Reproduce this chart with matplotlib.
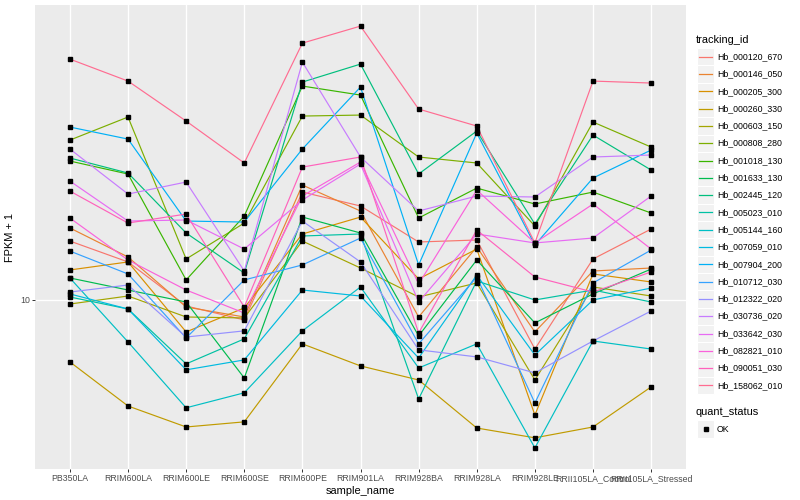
import numpy as np
import matplotlib.pyplot as plt
from matplotlib.patches import Rectangle

plt.rcParams['font.family'] = ['Liberation Sans', 'DejaVu Sans']

samples = ['PB350LA', 'RRIM600LA', 'RRIM600LE', 'RRIM600SE', 'RRIM600PE', 'RRIM901LA',
           'RRIM928BA', 'RRIM928LA', 'RRIM928LE', 'RRII105LA_Control', 'RRII105LA_Stressed']

tracking_ids = ['Hb_000120_670', 'Hb_000146_050', 'Hb_000205_300', 'Hb_000260_330',
                'Hb_000603_150', 'Hb_000808_280', 'Hb_001018_130', 'Hb_001633_130',
                'Hb_002445_120', 'Hb_005023_010', 'Hb_005144_160', 'Hb_007059_010',
                'Hb_007904_200', 'Hb_010712_030', 'Hb_012322_020', 'Hb_030736_020',
                'Hb_033642_030', 'Hb_082821_010', 'Hb_090051_030', 'Hb_158062_010']

# ggplot hue palette, 20 levels
colors = ['#F8766D', '#EA8331', '#D89000', '#C09B00', '#A3A500', '#7CAE00', '#39B600',
          '#00BB4E', '#00BF7D', '#00C1A3', '#00BFC4', '#00BAE0', '#00B0F6', '#35A2FF',
          '#9590FF', '#C77CFF', '#E76BF3', '#FA62DB', '#FF62BC', '#FF6C91']

# FPKM + 1 per gene, one value per sample
fpkm = [
    [15.09, 13.04, 9.59, 8.70, 21.24, 19.27, 14.99, 15.20, 7.10, 13.31, 16.41],
    [16.53, 13.50, 9.52, 8.88, 22.31, 18.61, 8.88, 14.48, 8.00, 12.24, 12.50],
    [12.33, 13.04, 8.00, 9.46, 15.85, 17.84, 11.58, 14.27, 4.48, 11.99, 11.34],
    [6.49, 4.77, 4.12, 4.27, 7.36, 6.31, 5.72, 4.09, 3.82, 4.12, 5.45],
    [9.72, 10.28, 8.88, 8.82, 15.09, 12.50, 10.21, 11.26, 5.72, 10.95, 10.28],
    [30.53, 35.86, 13.31, 17.11, 36.11, 36.36, 27.13, 26.02, 16.76, 34.63, 29.08],
    [26.38, 24.09, 11.50, 17.97, 44.52, 41.81, 17.72, 21.84, 19.54, 21.24, 18.35],
    [11.66, 10.72, 9.86, 5.80, 17.84, 15.96, 7.78, 13.22, 8.52, 10.43, 12.41],
    [26.94, 24.26, 15.96, 12.07, 45.78, 51.90, 24.09, 32.52, 16.99, 31.62, 24.77],
    [10.21, 9.39, 6.40, 7.62, 15.63, 15.85, 5.01, 11.42, 10.00, 10.72, 9.86],
    [11.66, 7.46, 4.71, 5.23, 8.06, 10.95, 6.22, 7.36, 3.56, 7.51, 7.10],
    [10.43, 9.39, 6.14, 6.58, 10.72, 10.28, 6.67, 11.90, 6.81, 10.00, 10.87],
    [33.44, 30.75, 17.35, 17.23, 28.69, 44.21, 12.77, 32.07, 14.68, 23.43, 28.48],
    [14.07, 11.99, 7.67, 11.50, 12.77, 15.41, 7.36, 11.74, 4.87, 11.26, 14.17],
    [10.57, 11.10, 7.72, 8.06, 17.35, 13.04, 7.06, 6.72, 6.01, 7.51, 9.26],
    [28.69, 20.95, 22.78, 12.24, 52.63, 27.13, 18.61, 20.66, 20.52, 27.13, 27.51],
    [22.94, 17.35, 17.48, 14.27, 20.09, 25.84, 9.86, 15.85, 14.89, 15.41, 20.66],
    [17.72, 13.22, 10.72, 9.13, 20.66, 26.20, 11.18, 21.54, 14.89, 19.54, 14.27],
    [21.39, 17.11, 18.22, 9.52, 25.29, 27.13, 7.94, 16.30, 11.74, 10.57, 12.16],
    [53.74, 46.10, 34.87, 26.02, 60.08, 67.67, 37.92, 33.68, 14.89, 46.10, 45.47],
]

W, H = 800, 500
fig = plt.figure(figsize=(W / 100, H / 100), dpi=100)
ax = fig.add_axes([35 / W, 31 / H, 651 / W, 464 / H])
ax.set_facecolor('#EBEBEB')
for s in ax.spines.values():
    s.set_visible(False)

x = np.arange(len(samples))
for vals, col in zip(fpkm, colors):
    ax.plot(x, vals, color=col, lw=0.85, zorder=2)
for vals in fpkm:
    ax.plot(x, vals, ls='none', marker='s', ms=2.3, color='black', zorder=3)

ax.set_yscale('log')
allv = np.log10(np.array(fpkm))
lo, hi = allv.min(), allv.max()
pad = 0.05 * (hi - lo)
ax.set_ylim(10 ** (lo - pad), 10 ** (hi + pad))
ax.set_xlim(-0.6, len(samples) - 0.4)
ax.set_yticks([10])
ax.set_yticklabels(['10'])
ax.yaxis.set_minor_locator(plt.NullLocator())
ax.set_xticks(x)
ax.set_xticklabels(samples)
ax.grid(True, color='white', lw=1.0, zorder=0)
ax.set_axisbelow(True)
ax.tick_params(length=2, width=0.7, color='#333333', labelsize=6.3,
               labelcolor='#4D4D4D', pad=1.5)
ax.set_xlabel('sample_name', fontsize=7.9, labelpad=2)
ax.set_ylabel('FPKM + 1', fontsize=7.9, labelpad=4)

# legends drawn ggplot-style in pixel space
lg = fig.add_axes([0, 0, 1, 1])
lg.set_xlim(0, W)
lg.set_ylim(H, 0)
lg.axis('off')
lg.text(696, 40, 'tracking_id', fontsize=7.9, va='center', ha='left')
step = 17.3
for i, (name, col) in enumerate(zip(tracking_ids, colors)):
    yc = 56.7 + i * step
    lg.add_patch(Rectangle((697, yc - step / 2), 17, step, facecolor='#F2F2F2',
                           edgecolor='white', lw=0.8))
    lg.plot([699, 712], [yc, yc], color=col, lw=0.9)
    lg.text(717, yc, name, fontsize=6.3, va='center', ha='left')
lg.text(696, 412, 'quant_status', fontsize=7.9, va='center', ha='left')
lg.add_patch(Rectangle((697, 429 - step / 2), 17, step, facecolor='#F2F2F2',
                       edgecolor='white', lw=0.8))
lg.plot([705.5], [429], marker='s', ms=2.3, color='black')
lg.text(717, 429, 'OK', fontsize=6.3, va='center', ha='left')

fig.savefig('out.png', dpi=100)
